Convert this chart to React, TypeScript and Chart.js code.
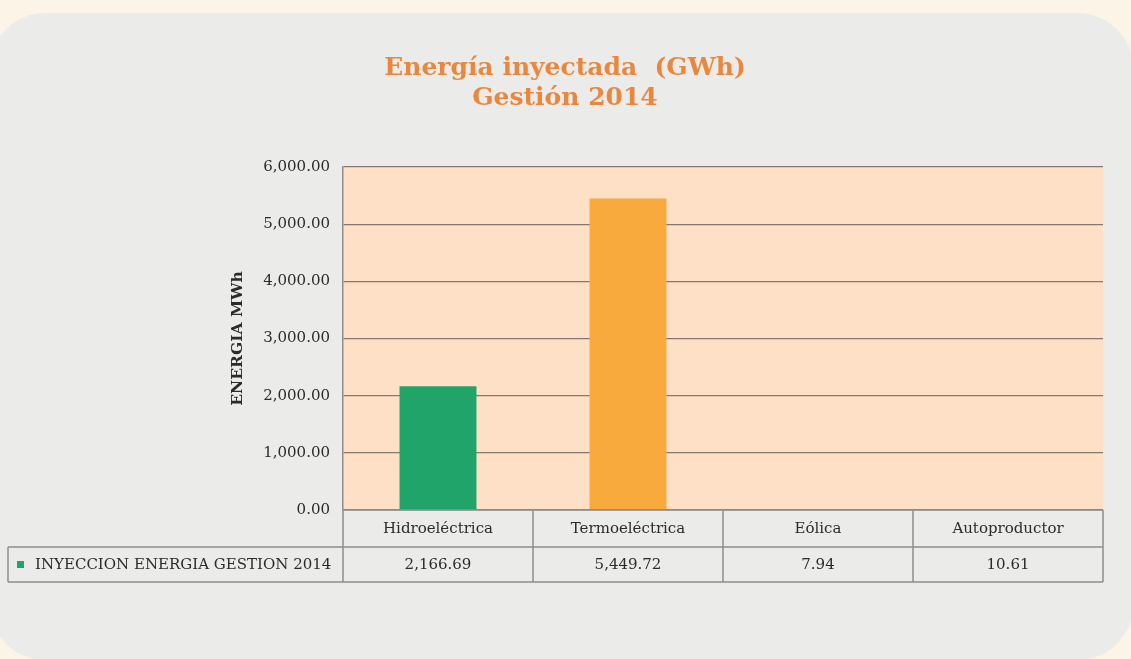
import React, { useEffect, useRef } from 'react';
import { Chart, registerables } from 'chart.js';

Chart.register(...registerables);

const titleLines = ['Energía inyectada  (GWh)', 'Gestión 2014'];
const yAxisTitle = 'ENERGIA MWh';
const categories = ['Hidroeléctrica', 'Termoeléctrica', 'Eólica', 'Autoproductor'];
const seriesLabel = 'INYECCION ENERGIA GESTION 2014';
const values = [2166.69, 5449.72, 7.94, 10.61];
const valueLabels = ['2,166.69', '5,449.72', '7.94', '10.61'];
const barColors = ['#21a46a', '#f8aa3c', '#21a46a', '#21a46a'];
const legendColor = '#21a46a';
const yMin = 0;
const yMax = 6000;
const yStep = 1000;

const SERIF = '"DejaVu Serif", "Liberation Serif", serif';
const CREAM = '#fdf4e8';
const PANEL = '#ebebe9';
const PEACH = '#fde0c5';
const TABLE_LINE = '#8e8e8e';
const TEXT = '#2b2b2b';

const backgroundPlugin = {
  id: 'bgPanel',
  beforeDraw(chart: any) {
    const { ctx, chartArea, width, height } = chart;
    ctx.save();
    ctx.fillStyle = CREAM;
    ctx.fillRect(0, 0, width, height);
    ctx.fillStyle = PANEL;
    ctx.beginPath();
    ctx.roundRect(-10, 13, 1143, 647, 55);
    ctx.fill();
    ctx.fillStyle = PEACH;
    ctx.fillRect(chartArea.left, chartArea.top, chartArea.right - chartArea.left, chartArea.bottom - chartArea.top);
    ctx.restore();
  },
};

const tablePlugin = {
  id: 'dataTable',
  afterDraw(chart: any) {
    const { ctx, chartArea } = chart;
    const xs = chart.scales.x;
    const step = xs.getPixelForValue(1) - xs.getPixelForValue(0);
    const half = step / 2;
    const top = chartArea.bottom;
    const mid = top + 37;
    const bot = mid + 35;
    const legendLeft = 8;
    ctx.save();
    ctx.strokeStyle = TABLE_LINE;
    ctx.lineWidth = 1.5;
    ctx.beginPath();
    ctx.moveTo(chartArea.left, top);
    ctx.lineTo(chartArea.right, top);
    ctx.moveTo(legendLeft, mid);
    ctx.lineTo(chartArea.right, mid);
    ctx.moveTo(legendLeft, bot);
    ctx.lineTo(chartArea.right, bot);
    ctx.moveTo(legendLeft, mid);
    ctx.lineTo(legendLeft, bot);
    for (let i = 0; i <= categories.length; i++) {
      const x = xs.getPixelForValue(0) - half + i * step;
      ctx.moveTo(x, top);
      ctx.lineTo(x, bot);
    }
    ctx.stroke();

    ctx.fillStyle = TEXT;
    ctx.font = `15px ${SERIF}`;
    ctx.textAlign = 'center';
    ctx.textBaseline = 'middle';
    categories.forEach((c, i) => {
      const cx = xs.getPixelForValue(i);
      ctx.fillText(c, cx, (top + mid) / 2 + 1);
      ctx.fillText(valueLabels[i], cx, (mid + bot) / 2 + 1);
    });
    ctx.fillStyle = legendColor;
    ctx.fillRect(17, (mid + bot) / 2 - 3.5, 7, 7);
    ctx.fillStyle = TEXT;
    ctx.textAlign = 'left';
    ctx.fillText(seriesLabel, 35, (mid + bot) / 2 + 1);
    ctx.restore();
  },
};

export default function App() {
  const ref = useRef<HTMLCanvasElement | null>(null);
  useEffect(() => {
    if (!ref.current) return;
    const chart = new Chart(ref.current, {
      type: 'bar',
      data: {
        labels: categories,
        datasets: [
          {
            label: seriesLabel,
            data: values,
            backgroundColor: barColors,
            borderWidth: 0,
            categoryPercentage: 1,
            barPercentage: 0.405,
          },
        ],
      },
      options: {
        responsive: false,
        animation: false,
        layout: { padding: { left: 27, right: 28, top: 0, bottom: 149 } },
        plugins: {
          legend: { display: false },
          tooltip: { enabled: false },
          title: {
            display: true,
            text: titleLines,
            color: '#e8873d',
            font: { family: SERIF, size: 25, weight: 'bold', lineHeight: 1.2 },
            padding: { top: 53, bottom: 54 },
          },
        },
        scales: {
          x: { display: false, offset: true },
          y: {
            min: yMin,
            max: yMax,
            ticks: {
              stepSize: yStep,
              padding: 13,
              color: TEXT,
              font: { family: SERIF, size: 15 },
              callback: (v: any) =>
                Number(v).toLocaleString('en-US', { minimumFractionDigits: 2, maximumFractionDigits: 2 }),
            },
            grid: { color: '#867770', lineWidth: 1.3, drawTicks: false },
            border: { display: true, color: '#8e8e8e', width: 1.5 },
            title: {
              display: true,
              text: yAxisTitle,
              color: TEXT,
              font: { family: SERIF, size: 15.5, weight: 'bold', lineHeight: 1.2 },
              padding: { top: 202, bottom: 0 },
            },
            afterFit: (scale: any) => {
              scale.width = 316;
            },
          },
        },
      },
      plugins: [backgroundPlugin, tablePlugin],
    } as any);
    return () => chart.destroy();
  }, []);

  return (
    <div style={{ position: 'absolute', left: 0, top: 0, width: 1131, height: 659 }}>
      <canvas ref={ref} width={1131} height={659} style={{ display: 'block' }} />
    </div>
  );
}
